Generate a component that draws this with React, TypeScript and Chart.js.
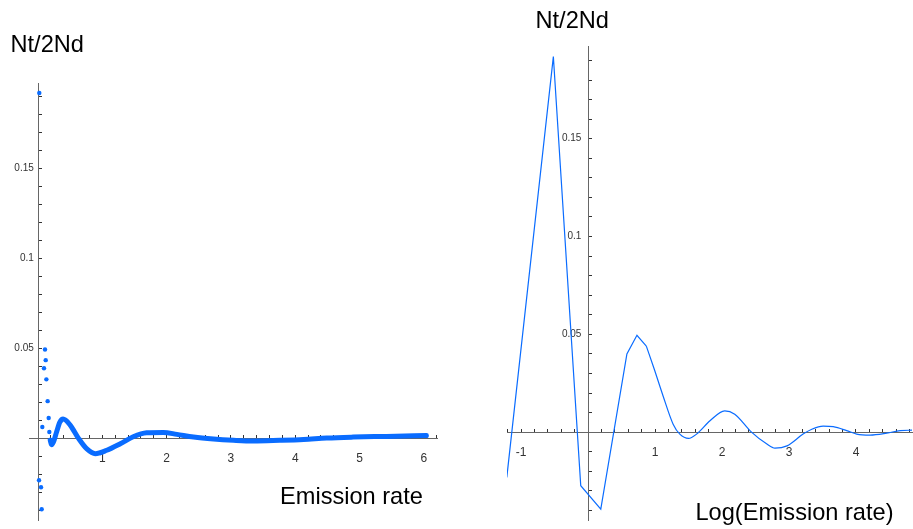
import React, { useEffect, useRef } from 'react';
import { Chart, registerables } from 'chart.js';

Chart.register(...registerables);

const BLUE = '#0a6cff';
const AXIS = '#666666';
const TICK = '#333333';
const FONT = "'Liberation Sans', Arial, sans-serif";

// ---------- Left panel (Nt/2Nd vs Emission rate) ----------
// isolated points close to x = 0
const leftDotsX = [0.02, 0.109, 0.12, 0.093, 0.13, 0.15, 0.166, 0.067, 0.176, 0.016, 0.047, 0.057];
const leftDotsY = [0.192, 0.0494, 0.0435, 0.039, 0.0328, 0.0207, 0.0113, 0.0063, 0.0035, -0.0233, -0.0272, -0.0394];
// dense (thick) run of points
const leftCurveX = [0.19, 0.21, 0.24, 0.29, 0.34, 0.39, 0.5, 0.63, 0.76, 0.89, 1.07, 1.28, 1.48, 1.69, 1.95, 2.16, 2.42, 2.73, 3.04, 3.35, 3.76, 4.13, 4.49, 4.9, 5.42, 6.04];
const leftCurveY = [-0.001, -0.0035, -0.002, 0.0037, 0.009, 0.0107, 0.0074, 0.0, -0.0059, -0.0085, -0.0066, -0.003, 0.0009, 0.0031, 0.0033, 0.0022, 0.0007, -0.0004, -0.0011, -0.0015, -0.0011, -0.0006, 0.0002, 0.0007, 0.0011, 0.0016];

const leftXLabelValues = [1, 2, 3, 4, 5, 6];
const leftXLabels = ['1', '2', '3', '4', '5', '6'];
const leftYLabelValues = [0.05, 0.1, 0.15];
const leftYLabels = ['0.05', '0.1', '0.15'];

// ---------- Right panel (Nt/2Nd vs Log(Emission rate)) ----------
const rightSharpX = [-1.213, -0.518, -0.109, 0.19, 0.58, 0.73, 0.87];
const rightSharpY = [-0.0231, 0.192, -0.0274, -0.0393, 0.04, 0.0495, 0.044];
const rightSmoothX = [0.87, 0.99, 1.12, 1.27, 1.37, 1.5, 1.62, 1.82, 2.04, 2.19, 2.44, 2.67, 2.79, 2.97, 3.21, 3.34, 3.51, 3.66, 3.86, 4.01, 4.21, 4.46, 4.66, 4.84];
const rightSmoothY = [0.044, 0.032, 0.0185, 0.0041, -0.001, -0.0032, -0.001, 0.0058, 0.0109, 0.0092, 0.0, -0.0061, -0.0082, -0.007, -0.001, 0.0015, 0.0031, 0.0028, 0.0008, -0.001, -0.0015, -0.0005, 0.0008, 0.001];

const rightXLabelValues = [-1, 1, 2, 3, 4];
const rightXLabels = ['-1', '1', '2', '3', '4'];
const rightYLabelValues = [0.05, 0.1, 0.15];
const rightYLabels = ['0.05', '0.1', '0.15'];

const pts = (xs: number[], ys: number[]) => xs.map((x, i) => ({ x, y: ys[i] }));

function tickList(from: number, to: number, step: number): number[] {
  const out: number[] = [];
  const n = Math.round((to - from) / step);
  for (let i = 0; i <= n; i++) {
    const v = Math.round((from + i * step) * 1000) / 1000;
    if (Math.abs(v) > 1e-9) out.push(v);
  }
  return out;
}

function labelFor(values: number[], labels: string[]) {
  return (v: number) => {
    const i = values.findIndex((a) => Math.abs(a - v) < 1e-6);
    return i >= 0 ? labels[i] : '';
  };
}

function axisX(min: number, max: number, ticks: number[], values: number[], labels: string[]) {
  const f = labelFor(values, labels);
  return {
    type: 'linear',
    min,
    max,
    position: { y: 0 },
    border: { display: true, color: AXIS, width: 1 },
    grid: { drawOnChartArea: false, drawTicks: true, tickLength: -4, tickColor: TICK, tickWidth: 1 },
    afterBuildTicks: (s: any) => {
      s.ticks = ticks.map((value) => ({ value }));
    },
    ticks: {
      autoSkip: false,
      maxRotation: 0,
      padding: 17,
      color: '#333',
      font: { family: FONT, size: 12 },
      callback: (v: any) => f(Number(v)),
    },
  };
}

// axis line + tick marks at x = 0
function axisY(min: number, max: number, ticks: number[]) {
  return {
    type: 'linear',
    min,
    max,
    position: { x: 0 },
    border: { display: true, color: AXIS, width: 1 },
    grid: { drawOnChartArea: false, drawTicks: true, tickLength: -4, tickColor: TICK, tickWidth: 1 },
    afterBuildTicks: (s: any) => {
      s.ticks = ticks.map((value) => ({ value }));
    },
    ticks: { display: false, autoSkip: false },
  };
}

// label-only y axis placed just left of the x = 0 axis
function axisYLabels(min: number, max: number, at: number, values: number[], labels: string[]) {
  const f = labelFor(values, labels);
  return {
    type: 'linear',
    min,
    max,
    position: { x: at },
    border: { display: false },
    grid: { display: false, drawOnChartArea: false },
    afterBuildTicks: (s: any) => {
      s.ticks = values.map((value) => ({ value }));
    },
    ticks: {
      autoSkip: false,
      color: '#333',
      font: { family: FONT, size: 10 },
      callback: (v: any) => f(Number(v)),
    },
  };
}

function useChart(ref: React.RefObject<HTMLCanvasElement>, build: () => any) {
  useEffect(() => {
    if (!ref.current) return;
    const chart = new Chart(ref.current, build());
    return () => chart.destroy();
  }, []);
}

const labelStyle = (left: number, top: number): React.CSSProperties => ({
  position: 'absolute',
  left,
  top,
  fontFamily: FONT,
  fontSize: 23.6,
  lineHeight: '23.6px',
  color: '#000',
  whiteSpace: 'nowrap',
});

export default function App() {
  const leftRef = useRef<HTMLCanvasElement>(null);
  const rightRef = useRef<HTMLCanvasElement>(null);

  useChart(leftRef, () => ({
    type: 'scatter',
    data: {
      datasets: [
        {
          type: 'line',
          data: pts(leftCurveX, leftCurveY),
          borderColor: BLUE,
          borderWidth: 5,
          borderCapStyle: 'round',
          borderJoinStyle: 'round',
          pointRadius: 0,
          cubicInterpolationMode: 'monotone',
          fill: false,
          yAxisID: 'y',
        },
        {
          type: 'scatter',
          data: pts(leftDotsX, leftDotsY),
          backgroundColor: BLUE,
          borderWidth: 0,
          pointRadius: 2.2,
          yAxisID: 'y',
        },
      ],
    },
    options: {
      responsive: false,
      animation: false,
      layout: { padding: { left: 29, top: 83, right: 23, bottom: 7 } },
      plugins: { legend: { display: false }, tooltip: { enabled: false }, title: { display: false } },
      scales: {
        x: axisX(-0.14, 6.205, tickList(0.2, 6.2, 0.2), leftXLabelValues, leftXLabels),
        y: axisY(-0.0454, 0.1976, tickList(-0.04, 0.19, 0.01)),
        yl: axisYLabels(-0.0454, 0.1976, -0.065, leftYLabelValues, leftYLabels),
      },
    },
  }));

  useChart(rightRef, () => ({
    type: 'line',
    data: {
      datasets: [
        {
          data: pts(rightSharpX, rightSharpY),
          borderColor: BLUE,
          borderWidth: 1.2,
          pointRadius: 0,
          tension: 0,
          fill: false,
          yAxisID: 'y',
        },
        {
          data: pts(rightSmoothX, rightSmoothY),
          borderColor: BLUE,
          borderWidth: 1.2,
          pointRadius: 0,
          cubicInterpolationMode: 'monotone',
          fill: false,
          yAxisID: 'y',
        },
      ],
    },
    options: {
      responsive: false,
      animation: false,
      layout: { padding: { left: 47, top: 46, right: 21, bottom: 8 } },
      plugins: { legend: { display: false }, tooltip: { enabled: false }, title: { display: false } },
      scales: {
        x: axisX(-1.21, 4.836, tickList(-1.2, 4.8, 0.2), rightXLabelValues, rightXLabels),
        y: axisY(-0.0449, 0.1974, tickList(-0.04, 0.19, 0.01)),
        yl: axisYLabels(-0.0449, 0.1974, -0.1, rightYLabelValues, rightYLabels),
      },
    },
  }));

  return (
    <div style={{ position: 'absolute', left: 0, top: 0, width: 913, height: 529, background: '#fff', overflow: 'hidden' }}>
      <canvas ref={leftRef} width={460} height={529} style={{ position: 'absolute', left: 0, top: 0 }} />
      <canvas ref={rightRef} width={473} height={529} style={{ position: 'absolute', left: 460, top: 0 }} />
      <div style={labelStyle(10.5, 32.5)}>Nt/2Nd</div>
      <div style={labelStyle(535.5, 9)}>Nt/2Nd</div>
      <div style={labelStyle(280, 484.5)}>Emission rate</div>
      <div style={labelStyle(695.5, 500.5)}>Log(Emission rate)</div>
    </div>
  );
}
